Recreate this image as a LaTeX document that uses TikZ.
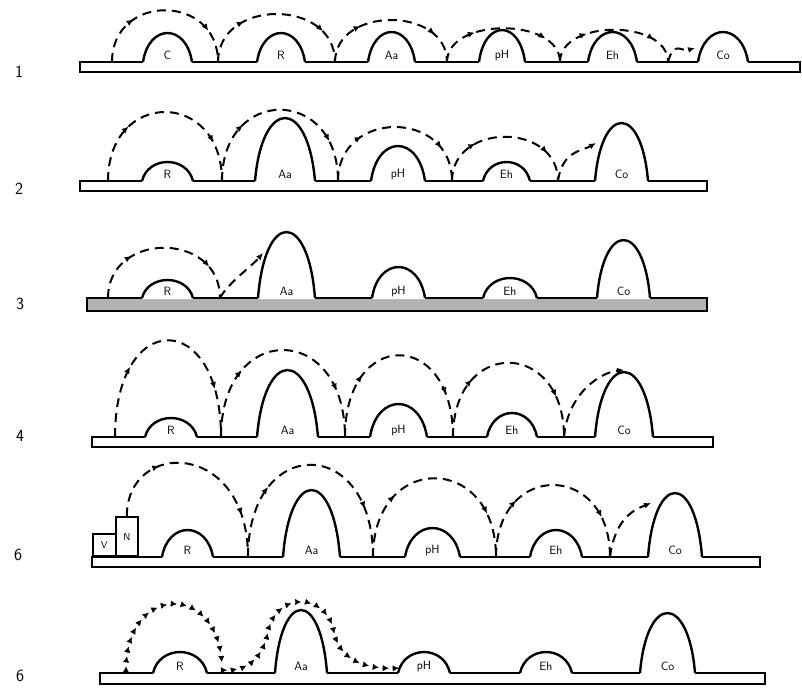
\documentclass[tikz,border=0pt]{standalone}
\usetikzlibrary{arrows.meta,decorations.markings}

\begin{document}
\begin{tikzpicture}[x=1pt, y=-1pt,
    bar/.style={draw, line width=2.4pt, fill=white},
    hump/.style={line width=2.4pt, line join=round},
    box/.style={draw, line width=1.6pt, inner sep=0pt, anchor=south west, font=\sffamily\fontsize{10}{10}\selectfont},
    hop/.style={line width=2pt, dash pattern=on 9pt off 6pt,
        decoration={markings,
            mark=at position 0.3 with {\arrow{Latex[length=7pt,width=6pt]}},
            mark=at position 0.8 with {\arrow{Latex[length=7pt,width=6pt]}}},
        postaction={decorate}},
    stop/.style={line width=2pt, dash pattern=on 9pt off 6pt, -{Latex[length=7pt,width=6pt]}},
    crawl/.style={decoration={markings,
            mark=between positions 0.02 and 1 step 10pt with {\arrow{Latex[length=6pt,width=6pt]}}},
        postaction={decorate}},
    lbl/.style={font=\sffamily\fontsize{12}{12}\selectfont, inner sep=0pt},
    rowno/.style={font=\sffamily\fontsize{17}{17}\selectfont, inner sep=0pt},
    pics/hurdle/.style n args={3}{code={
        \fill[white] (0,1.1) .. controls ({0.12*#1},{-1.333*#2}) and ({0.88*#1},{-1.333*#2}) .. (#1,1.1) -- cycle;
        \draw[hump] (0,0) .. controls ({0.12*#1},{-1.333*#2}) and ({0.88*#1},{-1.333*#2}) .. (#1,0);
        \node[lbl] (-lbl) at ({#1/2},-7) {#3};
    }}
]
\useasboundingbox (0,0) rectangle (802,691);

% row 1
\node[rowno] (n1) at (19,72) {1};
\draw[bar] (80,62) rectangle (800,72);
\pic (r1c) at (143,62) {hurdle={49}{29}{C}};
\pic (r1r) at (257,62) {hurdle={48}{29}{R}};
\pic (r1a) at (368,62) {hurdle={47}{30}{Aa}};
\pic (r1p) at (479,62) {hurdle={46}{32}{pH}};
\pic (r1e) at (588,62) {hurdle={49}{30}{Eh}};
\pic (r1o) at (698,62) {hurdle={50}{30}{Co}};
\coordinate (h11) at (112,62);
\coordinate (h12) at (218,62);
\coordinate (h13) at (335,62);
\coordinate (h14) at (447,62);
\coordinate (h15) at (560,62);
\coordinate (h16) at (668,62);
\coordinate (h17) at (695,48);
\draw[hop] (h11) .. controls +(0,-69) and +(0,-69) .. (h12);
\draw[hop] (h12) .. controls +(0,-64) and +(0,-64) .. (h13);
\draw[hop] (h13) .. controls +(0,-56) and +(0,-56) .. (h14);
\draw[hop] (h14) .. controls +(0,-45) and +(0,-45) .. (h15);
\draw[hop] (h15) .. controls +(0,-43) and +(0,-43) .. (h16);
\draw[stop] (h16) .. controls +(6,-22) and +(-14,4) .. (h17);

% row 2
\node[rowno] (n2) at (19,189) {2};
\draw[bar] (80,181) rectangle (707,191);
\pic (r2r) at (142,181) {hurdle={51}{19}{R}};
\pic (r2a) at (255,181) {hurdle={60}{63}{Aa}};
\pic (r2p) at (371,181) {hurdle={54}{35}{pH}};
\pic (r2e) at (483,181) {hurdle={47}{19}{Eh}};
\pic (r2o) at (595,181) {hurdle={53}{58}{Co}};
\coordinate (h21) at (108,181);
\coordinate (h22) at (222,181);
\coordinate (h23) at (338,181);
\coordinate (h24) at (452,181);
\coordinate (h25) at (558,181);
\coordinate (h26) at (596,143);
\draw[hop] (h21) .. controls +(0,-92) and +(0,-92) .. (h22);
\draw[hop] (h22) .. controls +(0,-95) and +(0,-95) .. (h23);
\draw[hop] (h23) .. controls +(0,-72) and +(0,-72) .. (h24);
\draw[hop] (h24) .. controls +(0,-59) and +(0,-59) .. (h25);
\draw[stop] (h25) .. controls +(4,-30) and +(-14,8) .. (h26);

% row 3
\node[rowno] (n3) at (20,304) {3};
\draw[bar, fill=gray!60] (87,298) rectangle (707,311);
\pic (r3r) at (142,298) {hurdle={51}{18}{R}};
\pic (r3a) at (258,298) {hurdle={57}{66}{Aa}};
\pic (r3p) at (372,298) {hurdle={53}{31}{pH}};
\pic (r3e) at (483,298) {hurdle={54}{20}{Eh}};
\pic (r3o) at (597,298) {hurdle={53}{58}{Co}};
\coordinate (h31) at (108,298);
\coordinate (h32) at (220,298);
\coordinate (h33) at (263,253);
\draw[hop] (h31) .. controls +(0,-67) and +(0,-67) .. (h32);
\draw[stop] (h32) .. controls +(8,-15) and +(-12,14) .. (h33);

% row 4
\node[rowno] (n4) at (20,436) {4};
\draw[bar] (92,437) rectangle (713,447);
\pic (r4r) at (145,437) {hurdle={52}{19}{R}};
\pic (r4a) at (257,437) {hurdle={61}{67}{Aa}};
\pic (r4p) at (370,437) {hurdle={57}{33}{pH}};
\pic (r4e) at (487,437) {hurdle={50}{24}{Eh}};
\pic (r4o) at (595,437) {hurdle={58}{65}{Co}};
\coordinate (h41) at (115,437);
\coordinate (h42) at (221,437);
\coordinate (h43) at (345,437);
\coordinate (h44) at (453,437);
\coordinate (h45) at (564,437);
\coordinate (h46) at (624,370);
\draw[hop] (h41) .. controls +(0,-129) and +(0,-129) .. (h42);
\draw[hop] (h42) .. controls +(0,-116) and +(0,-116) .. (h43);
\draw[hop] (h43) .. controls +(0,-109) and +(0,-109) .. (h44);
\draw[hop] (h44) .. controls +(0,-99) and +(0,-99) .. (h45);
\draw[stop] (h45) .. controls +(4,-45) and +(-22,2) .. (h46);

% row 5
\node[rowno] (n5) at (18,555) {6};
\draw[bar] (92,557) rectangle (760,567);
\node[box, minimum width=23pt, minimum height=22pt] (vbox) at (92,557) {V};
\node[box, minimum width=22pt, minimum height=39pt] (nbox) at (115,557) {N};
\pic (r5r) at (162,557) {hurdle={51}{27}{R}};
\pic (r5a) at (283,557) {hurdle={57}{67}{Aa}};
\pic (r5p) at (405,557) {hurdle={55}{29}{pH}};
\pic (r5e) at (530,557) {hurdle={52}{27}{Eh}};
\pic (r5o) at (648,557) {hurdle={54}{64}{Co}};
\coordinate (h52) at (248,557);
\coordinate (h53) at (373,557);
\coordinate (h54) at (496,557);
\coordinate (h55) at (610,557);
\coordinate (h56) at (651,503);
\draw[hop] (nbox.north) .. controls +(0,-78) and +(0,-117) .. (h52);
\draw[hop] (h52) .. controls +(0,-123) and +(0,-123) .. (h53);
\draw[hop] (h53) .. controls +(0,-105) and +(0,-105) .. (h54);
\draw[hop] (h54) .. controls +(0,-96) and +(0,-96) .. (h55);
\draw[stop] (h55) .. controls +(5,-40) and +(-15,6) .. (h56);

% row 6
\node[rowno] (n6) at (20,676) {6};
\draw[bar] (100,673) rectangle (765,684);
\pic (r6r) at (153,673) {hurdle={54}{21}{R}};
\pic (r6a) at (275,673) {hurdle={52}{63}{Aa}};
\pic (r6p) at (398,673) {hurdle={52}{21}{pH}};
\pic (r6e) at (520,673) {hurdle={52}{21}{Eh}};
\pic (r6o) at (640,673) {hurdle={55}{60}{Co}};
\coordinate (h61) at (126,670);
\coordinate (h62) at (222,670);
\coordinate (h63) at (400,668);
\path[crawl] (h61) .. controls +(0,-88) and +(0,-88) .. (h62);
\path[crawl] (h62) .. controls (250,672) and (263,655) .. (268,632)
    .. controls (276,592) and (326,592) .. (334,632)
    .. controls (340,660) and (365,670) .. (h63);
\end{tikzpicture}
\end{document}
